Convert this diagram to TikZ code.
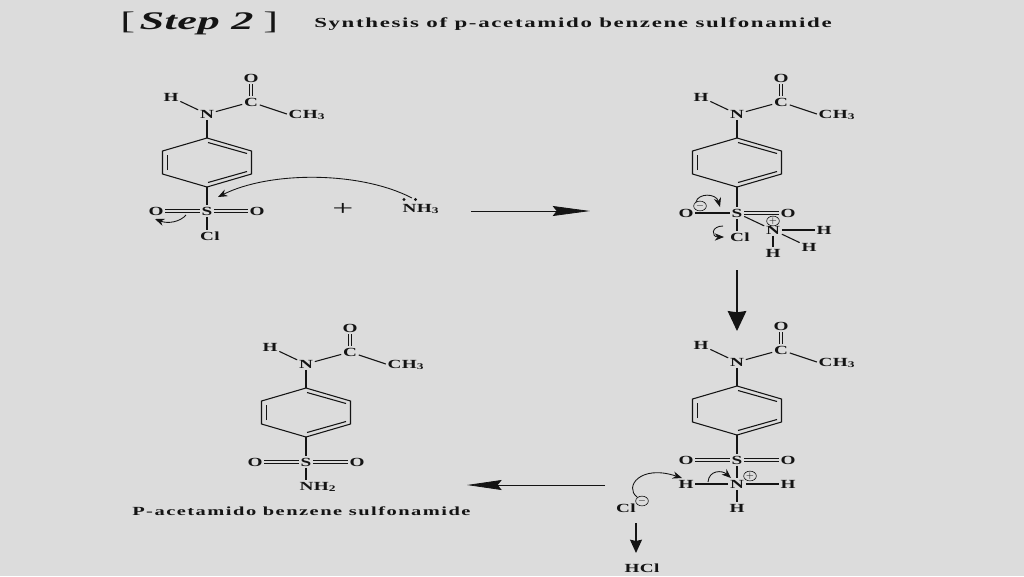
\documentclass[tikz,border=0pt]{standalone}
\usepackage{fontspec}
\usepackage{tikz}
\usetikzlibrary{arrows.meta,shapes.geometric}
\newfontfamily\atomfont{Liberation Serif}[FakeStretch=1.55,LetterSpace=3]
\newfontfamily\titlefont{Liberation Serif}[FakeStretch=1.65,LetterSpace=12]
\newfontfamily\stepfont{Liberation Serif}[FakeStretch=1.75,LetterSpace=2]
\definecolor{pagegray}{HTML}{DCDCDC}
\definecolor{inkgray}{HTML}{141414}
\tikzset{
  atom/.style={font=\atomfont\bfseries\fontsize{9.3}{10}\selectfont,text=inkgray,inner sep=1.2pt,text height=6pt,text depth=0pt},
  heading/.style={font=\titlefont\bfseries\fontsize{10.4}{12}\selectfont,text=inkgray,inner sep=0pt},
  bond/.style={draw=inkgray,line width=.8pt},
  dbond/.style={bond,double=pagegray,double distance=1.7pt,line width=.6pt},
  charge/.style={ellipse,draw=inkgray,line width=.45pt,inner sep=0pt,minimum width=9.5pt,minimum height=6.5pt,text=inkgray,font=\fontsize{7.5}{7}\selectfont},
  curly/.style={draw=inkgray,line width=.65pt,-{Stealth[length=7pt,width=5.5pt]}},
  lonepair/.style={circle,fill=inkgray,inner sep=0pt,minimum size=2.6pt},
  thinarrow/.style={draw=inkgray,line width=.6pt},
  thickarrow/.style={draw=inkgray,line width=1pt},
}
\begin{document}
\begin{tikzpicture}[x=.75pt,y=-.75pt]
      \fill[pagegray] (0,0) rectangle (1024,576);
      \useasboundingbox (0,0) rectangle (1024,576);
      %% Headings
      \node[heading,font=\stepfont\fontsize{19}{21}\selectfont,anchor=west] (step) at (120,23) {[\hspace{3pt}\textbf{\textit{Step 2}}\hspace{7pt}]};
      \node[heading,anchor=west] (title) at (314,24) {Synthesis of p-acetamido benzene sulfonamide};
      \node[heading,font=\titlefont\bfseries\fontsize{9.3}{12}\selectfont,anchor=west] (name) at (132,511) {P-acetamido benzene sulfonamide};
      %% The part shared by all four molecules
      \foreach \mol/\dx/\dy in {a/0/0,b/530/0,c/530/248,d/99/250} {
        \begin{scope}[shift={(\dx,\dy)}]
          \node[atom] (\mol N) at (207,114) {N};
          \node[atom] (\mol H) at (171,97) {H};
          \node[atom] (\mol C) at (251,102) {C};
          \node[atom] (\mol O) at (251,78) {O};
          \node[atom] (\mol Me) at (307,114) {CH\textsubscript{3}};
          \coordinate (\mol r1) at (207,138);
          \coordinate (\mol r2) at (251.5,151);
          \coordinate (\mol r3) at (251.5,174);
          \coordinate (\mol r4) at (207,187);
          \coordinate (\mol r5) at (162.5,174);
          \coordinate (\mol r6) at (162.5,151);
          \coordinate (\mol i1) at (208,142.5);
          \coordinate (\mol i2) at (247,153.5);
          \coordinate (\mol i3) at (247,171.5);
          \coordinate (\mol i4) at (208,182.5);
          \coordinate (\mol i5) at (167.5,170);
          \coordinate (\mol i6) at (167.5,155);
        \end{scope}
        \draw[bond] (\mol N) -- (\mol H);
        \draw[bond] (\mol N) -- (\mol C);
        \draw[bond] (\mol C) -- (\mol Me.west);
        \draw[dbond] (\mol C) -- (\mol O);
        \draw[bond] (\mol N) -- (\mol r1);
        \draw[bond] (\mol r1) -- (\mol r2) -- (\mol r3) -- (\mol r4) -- (\mol r5) -- (\mol r6) -- cycle;
        \draw[bond] (\mol i1) -- (\mol i2);
        \draw[bond] (\mol i3) -- (\mol i4);
        \draw[bond] (\mol i5) -- (\mol i6);
      }
      %% Sulfonyl chloride and ammonia
      \node[atom] (aS) at (207,211) {S};
      \node[atom] (aOl) at (156,211) {O};
      \node[atom] (aOr) at (257,211) {O};
      \node[atom] (aCl) at (210,236) {Cl};
      \node[font=\stepfont\fontsize{16}{16}\selectfont,text=inkgray,inner sep=0pt] (plus) at (343,209) {+};
      \node[atom] (nh) at (421,208) {NH\textsubscript{3}};
      \node[lonepair] (lp1) at (404,199.5) {};
      \node[lonepair] (lp2) at (415.5,199.5) {};
      \draw[bond] (ar4) -- (aS);
      \draw[bond] (aS) -- (aS |- aCl.north);
      \draw[dbond] (aS) -- (aOl);
      \draw[dbond] (aS) -- (aOr);
      %% Intermediate with the charges
      \node[atom] (bS) at (737,213) {S};
      \node[atom] (bOl) at (686,213) {O};
      \node[atom] (bOr) at (788,213) {O};
      \node[atom] (bCl) at (740,237) {Cl};
      \node[atom] (bNp) at (773,230) {N};
      \node[atom] (bH1) at (824,230) {H};
      \node[atom] (bH2) at (809,247) {H};
      \node[atom] (bH3) at (773,253) {H};
      \node[charge] (bminus) at (700,206) {$-$};
      \node[charge] (bplus) at (773,221) {$+$};
      \draw[bond] (br4) -- (bS);
      \draw[bond] (bS) -- (bOl);
      \draw[dbond] (bS) -- (bOr);
      \draw[bond] (bS) -- (bS |- bCl.north);
      \draw[bond] (bS) -- (bNp);
      \draw[bond] (bNp) -- (bH1);
      \draw[bond] (bNp) -- (bH2);
      \draw[bond] (bNp) -- (bH3);
      %% Intermediate losing a proton
      \node[atom] (cS) at (737,460) {S};
      \node[atom] (cOl) at (686,460) {O};
      \node[atom] (cOr) at (788,460) {O};
      \node[atom] (cNp) at (737,484) {N};
      \node[atom] (cH1) at (686,484) {H};
      \node[atom] (cH2) at (788,484) {H};
      \node[atom] (cH3) at (737,508) {H};
      \node[charge] (cplus) at (750,476) {$+$};
      \node[atom] (cCl) at (626,508) {Cl};
      \node[charge] (cminus) at (642,501) {$-$};
      \node[atom] (hcl) at (642,568) {HCl};
      \draw[bond] (cr4) -- (cS);
      \draw[bond] (cS) -- (cNp);
      \draw[dbond] (cS) -- (cOl);
      \draw[dbond] (cS) -- (cOr);
      \draw[bond] (cNp) -- (cH1);
      \draw[bond] (cNp) -- (cH2);
      \draw[bond] (cNp) -- (cH3);
      %% Product
      \node[atom] (dS) at (306,462) {S};
      \node[atom] (dOl) at (255,462) {O};
      \node[atom] (dOr) at (357,462) {O};
      \node[atom] (dNH) at (318,486) {NH\textsubscript{2}};
      \draw[bond] (dr4) -- (dS);
      \draw[bond] (dS) -- (dS |- dNH.north);
      \draw[dbond] (dS) -- (dOl);
      \draw[dbond] (dS) -- (dOr);
      %% Reaction arrows
      \coordinate (ar1s) at (471,211);
      \coordinate (ar1e) at (590,211);
      \coordinate (ar2s) at (737,270);
      \coordinate (ar2e) at (737,331);
      \coordinate (ar3s) at (605,485);
      \coordinate (ar3e) at (467,485);
      \coordinate (ar4s) at (636,523);
      \coordinate (ar4e) at (636,553);
      \draw[thinarrow,-{Stealth[length=28pt,width=7.5pt,inset=3pt]}] (ar1s) -- (ar1e);
      \draw[thickarrow,-{Stealth[length=15pt,width=14pt,inset=1pt]}] (ar2s) -- (ar2e);
      \draw[thinarrow,-{Stealth[length=26pt,width=7.5pt,inset=3pt]}] (ar3s) -- (ar3e);
      \draw[thickarrow,-{Stealth[length=10pt,width=9pt,inset=1pt]}] (ar4s) -- (ar4e);
      %% Curved electron arrows
      \coordinate (e1s) at (412,198);
      \coordinate (e1e) at (218,197);
      \coordinate (e2s) at (186,215);
      \coordinate (e2e) at (155,219);
      \coordinate (e3s) at (696,202);
      \coordinate (e3e) at (720,207);
      \coordinate (e4s) at (723,226);
      \coordinate (e4e) at (724,237);
      \coordinate (e5s) at (637,497);
      \coordinate (e5e) at (682,478);
      \coordinate (e6s) at (708,482);
      \coordinate (e6e) at (731,478);
      \draw[curly] (e1s) .. controls (360,171) and (270,171) .. (e1e);
      \draw[curly] (e2s) .. controls (180,222) and (168,224) .. (e2e);
      \draw[curly] (e3s) .. controls (698,193) and (716,193) .. (e3e);
      \draw[curly] (e4s) .. controls (711,226) and (711,237) .. (e4e);
      \draw[curly] (e5s) .. controls (624,487) and (640,464) .. (e5e);
      \draw[curly] (e6s) .. controls (709,470) and (722,470) .. (e6e);
    \end{tikzpicture}
\end{document}
